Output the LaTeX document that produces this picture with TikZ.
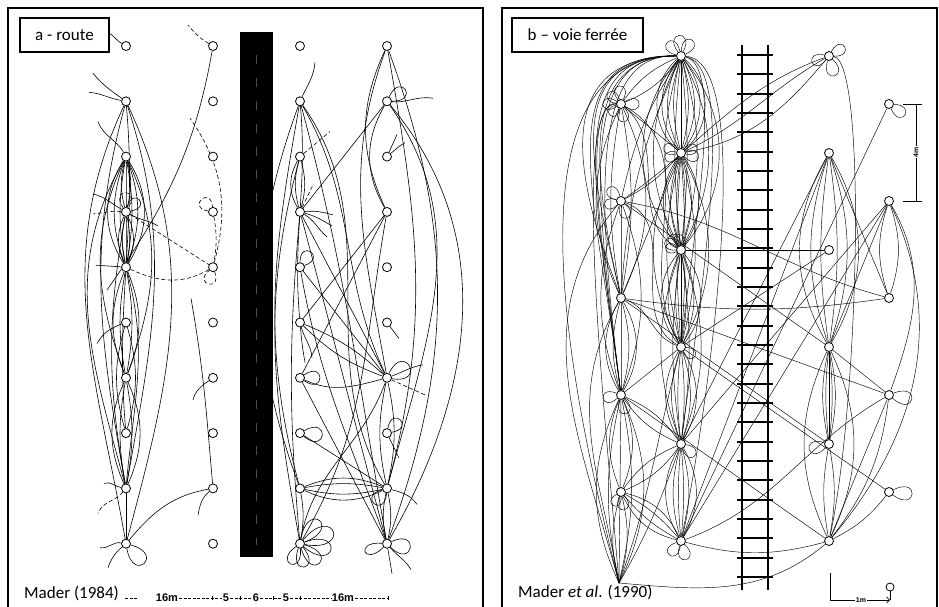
\documentclass[tikz,border=0pt]{standalone}
\usepackage{fontspec}
\setmainfont{Carlito}
\newfontfamily\gaugefont{Liberation Sans}
\usetikzlibrary{positioning,arrows.meta}
\pgfdeclarelayer{background}
\pgfsetlayers{background,main}
\tikzstyle{site} = [draw, circle, fill=white, inner sep=0pt,
    minimum size=9pt, line width=0.8pt]
\tikzstyle{link} = [draw, line width=0.6pt]
\tikzstyle{thread} = [draw, line width=0.45pt]
\tikzstyle{trail} = [draw, line width=0.6pt, dash pattern=on 4pt off 2.5pt]
\tikzstyle{caption} = [draw, rectangle, line width=1.2pt, inner sep=0pt,
    font=\fontsize{17}{19}\selectfont]
\tikzstyle{source} = [inner sep=0pt, anchor=base west, font=\fontsize{17}{19}\selectfont]
\tikzstyle{gauge} = [inner sep=1pt, font=\gaugefont\bfseries\fontsize{11}{11}\selectfont]
\tikzstyle{gaugeline} = [draw, line width=0.5pt, dash pattern=on 3pt off 1.5pt]
\tikzstyle{frame} = [line width=1.6pt]

\begin{document}
\begin{tikzpicture}[x=1pt, y=1pt, >=latex]
\useasboundingbox (0,0) rectangle (939,-607);
% panel frames
\draw[frame] (8,-607) |- (483,-8) -- (483,-607);
\draw[frame] (502,-607) |- (937,-8) -- (937,-607);

\node[caption, minimum width=89pt, minimum height=34pt] (route) at (64.5,-35) {a - route};
\node[caption, minimum width=131pt, minimum height=34pt] (rail) at (577.5,-35) {b -- voie ferrée};

% road
\fill (240,-32) rectangle (273,-557);
\draw[black!70!white, line width=0.6pt, dash pattern=on 9pt off 14pt] (256.5,-55) -- (256.5,-545);

% sites along the road
\foreach \col/\x in {a/126,b/213,c/300,d/387}
  \foreach \i in {1,...,10}
    \node[site] (\col\i) at (\x,{-46-55.3*(\i-1)}) {};

% sites along the railway
\foreach \i in {1,...,5} {
  \node[site] (p\i) at (621,{-104-97*(\i-1)}) {};
  \node[site] (t\i) at (889,{-104-97*(\i-1)}) {};
}
\foreach \i in {1,...,6} {
  \node[site] (q\i) at (681,{-56-97*(\i-1)}) {};
  \node[site] (s\i) at (829,{-56-97*(\i-1)}) {};
}
\coordinate (p6) at (619,-583);

% sources
\node[source] (mader) at (24,-598) {Mader (1984)};
\node[source] (madetal) at (518,-597) {Mader \textit{et al}. (1990)};

% width scale under the road
\node[gauge] (m16l) at (167,-598) {16m};
\node[gauge] (m5l) at (226,-598) {5};
\node[gauge] (m6) at (256,-598) {6};
\node[gauge] (m5r) at (286,-598) {5};
\node[gauge] (m16r) at (343,-598) {16m};
\coordinate (gstart) at (125,-598);
\coordinate (gend) at (388,-598);
\draw[gaugeline] (gstart) -- ++(12,0);
\draw[gaugeline] (m16l) -- (m5l);
\draw[gaugeline] (m5l) -- (m6);
\draw[gaugeline] (m6) -- (m5r);
\draw[gaugeline] (m5r) -- (m16r);
\draw[gaugeline] (m16r) -- (gend);
\foreach \x in {212.5,240,273,300.5,388} \draw[line width=0.5pt] (\x,-596) -- (\x,-600);

% scales of panel b
\node[gauge, rotate=90, font=\gaugefont\bfseries\fontsize{7}{7}\selectfont] (four) at (916,-152) {4m};
\coordinate (ftop) at (916,-104);
\coordinate (fbot) at (916,-201);
\draw[link] (ftop) -- (four);
\draw[link] (four) -- (fbot);
\draw[link] ([xshift=-13pt]ftop) -- ([xshift=6pt]ftop);
\draw[link] ([xshift=-13pt]fbot) -- ([xshift=6pt]fbot);
\node[gauge, font=\gaugefont\bfseries\fontsize{7}{7}\selectfont] (onem) at (861,-600) {1m};
\coordinate (mtop) at (830,-573);
\coordinate (mcorner) at (830,-600);
\coordinate (mend) at (890,-600);
\node[site, minimum size=8pt] (probe) at (890,-587) {};
\draw[link] (mtop) -- (mcorner) -- (onem);
\draw[link, -{Straight Barb[length=3pt]}] (onem) -- (mend);
\draw[link] (probe) -- (mend);

\begin{pgfonlayer}{background}
% railway
\foreach \x in {742,768} \draw[line width=2pt] (\x,-45) -- (\x,-590);
\foreach \k in {0,...,27} \draw[line width=2pt] (737,{-55-19.33*\k}) -- (773,{-55-19.33*\k});

% ---- panel a, west side
\draw[link] (a1) to[out=150,in=-30] ++(-17,13);
\draw[link] (a2) to[out=145,in=-50] ++(-33,28);
\draw[link] (a2) to[out=170,in=-5] ++(-37,9);
\draw[link] (a3) to[out=120,in=-70] ++(-28,35);
\draw[link] (a2) to[out=-115,in=100] (a10);
\draw[link] (a2) to[out=-105,in=100] (a9);
\draw[link] (a2) to[out=-65,in=75] (a10);
\draw[link] (a2) to[out=-72,in=80] (a9);
\draw[link] (a2) to[out=-85,in=95] (a8);
\foreach \b in {-32,-20,-10,10,20,32} \draw[link] (a3) to[bend left=\b] (a5);
\foreach \b in {-24,-12,0,12,24} \draw[link] (a4) to[bend left=\b] (a5);
\foreach \b in {-15,0,15} \draw[link] (a3) to[bend left=\b] (a4);
\draw[link] (a3) to[out=-115,in=110] (a7);
\draw[link] (a3) to[out=-65,in=70] (a7);
\draw[link] (a3) to[out=-120,in=105] (a9);
\draw[link] (a4) to[out=150,in=-15] ++(-33,18);
\draw[link] (a4) to[out=-30,in=150] ++(32,-14);
\draw[trail] (a4) to[out=175,in=5] ++(-33,-2);
\draw[link] (a4) to[out=75,in=10,min distance=22pt] (a4);
\draw[trail] (a4) to[out=125,in=60,min distance=24pt] (a4);
\draw[trail] (a4) -- (b5);
\draw[trail] (a5) to[out=-25,in=-150] (b5);
\draw[link] (a5) -- ++(-30,2);
\draw[link] (b1) to[out=-100,in=55] ++(-106,-244);
\draw[trail] (b1) to[out=150,in=-50] ++(-25,21);
\draw[trail] (b5) to[out=75,in=-55] ++(-23,149);
\draw[trail] (b4) to[out=170,in=95,min distance=22pt] (b4);
\draw[trail] (b4) to[bend left=10] (b5);
\draw[trail] (b5) to[out=-70,in=-140,min distance=22pt] (b5);
\foreach \b in {-22,-10,10,22} \draw[link] (a5) to[bend left=\b] (a7);
\foreach \b in {-16,16} \draw[link] (a6) to[bend left=\b] (a8);
\foreach \b in {-24,-10,10,24} \draw[link] (a7) to[bend left=\b] (a9);
\draw[link] (a5) to[out=-75,in=85] (a9);
\draw[link] (a4) to[out=-100,in=100] (a9);
\draw[link] (a6) to[out=-160,in=60] ++(-29,-21);
\draw[link] (a9) to[out=170,in=20] ++(-22,5);
\draw[trail] (a9) to[out=-130,in=70] ++(-28,-25);
\draw[link] (a9) -- (a10);
\draw[link] (a10) to[out=-15,in=-80,min distance=36pt] (a10);
\draw[link] (a10) to[out=170,in=-10] ++(-26,-4);
\draw[link] (a10) to[out=-140,in=70] ++(-18,-24);
\draw[link] (a10) to[out=50,in=190] (b9);
\draw[link] (b7) to[out=-145,in=75] ++(-20,-22);
\draw[link] (b9) to[out=-140,in=80] ++(-15,-27);
\draw[link] (b9) to[out=95,in=-80] ++(-22,190);

% ---- panel a, east side
\draw[link] (c2) to[out=65,in=-95] ++(15,39);
\draw[link] (d1) to[out=-115,in=115] (d4);
\draw[link] (d1) to[out=-70,in=70] (d10);
\draw[link] (d1) to[out=-80,in=75] (d9);
\draw[link] (d1) to[out=-110,in=100] (d7);
\draw[link] (d2) to[out=65,in=0,min distance=28pt] (d2);
\draw[link] (d2) to[out=-5,in=170] ++(46,3);
\draw[link] (d2) -- (c4);
\draw[link] (d2) to[out=-120,in=120] (d4);
\draw[link] (d2) to[out=-55,in=75] (d9);
\draw[link] (d2) to[out=-50,in=60] (d10);
\draw[link] (d3) -- ++(10,22);
\draw[link] (d3) to[out=40,in=-150] ++(18,14);
\draw[link] (c2) to[out=-110,in=110] (c9);
\draw[link] (c2) to[out=-100,in=105] (c9);
\draw[link] (c3) to[out=-105,in=100] (c10);
\foreach \b in {-30,-15,15} \draw[link] (c3) to[bend left=\b] (c4);
\draw[trail] (c3) -- ++(30,25);
\draw[link] (c2) to[out=-60,in=115] (d7);
\draw[link] (c2) to[out=-55,in=120] (d9);
\draw[link] (c2) to[out=-75,in=100] (d10);
\draw[link] (c2) to[out=-85,in=95] (c6);
\draw[link] (c4) -- (d7);
\draw[link] (c4) to[out=-75,in=105] (d10);
\draw[link] (c4) to[out=-95,in=95] (c10);
\draw[link] (c4) to[out=5,in=165] ++(33,-3);
\draw[link] (c4) to[out=-15,in=150] ++(32,-14);
\draw[link] (c4) to[out=-30,in=140] ++(27,-25);
\draw[trail] (c4) -- ++(13,27);
\draw[link] (c5) to[out=90,in=20,min distance=24pt] (c5);
\draw[link] (c5) -- (d7);
\draw[link] (c5) to[out=-80,in=110] (d10);
\draw[link] (c6) to[bend left=10] (d7);
\draw[link] (c6) to[bend right=12] (d7);
\draw[link] (c6) to[out=-75,in=95] ++(12,-35);
\draw[link] (c6) to[out=-85,in=100] ++(5,-40);
\draw[link] (c7) to[out=35,in=-35,min distance=26pt] (c7);
\draw[link] (c7) to[out=-25,in=-165] (d7);
\draw[link] (c7) -- (d10);
\draw[link] (c8) to[out=30,in=-40,min distance=30pt] (c8);
\draw[link] (c8) -- (d9);
\foreach \b in {-25,-12,10,22} \draw[link] (c9) to[bend left=\b] (d9);
\draw[link] (c9) to[bend left=10] (c10);
\draw[link] (d4) -- (c6);
\draw[link] (d4) -- (c7);
\draw[link] (d4) to[out=-100,in=60] (c10);
\draw[link] (d6) -- ++(12,-16);
\draw[link] (d7) to[out=65,in=-10,min distance=36pt] (d7);
\draw[link] (d7) to[out=20,in=-170] ++(36,13);
\draw[trail] (d7) -- ++(40,-18);
\draw[link] (d7) to[out=-110,in=80] (c10);
\draw[link] (d7) to[bend left=12] (d9);
\draw[link] (d7) to[bend right=12] (d9);
\draw[link] (d8) to[out=80,in=10,min distance=24pt] (d8);
\draw[link] (d8) -- ++(12,-25);
\draw[link] (d9) to[out=-95,in=-165,min distance=26pt] (d9);
\draw[link] (d9) to[out=-15,in=125] ++(30,-16);
\foreach \b in {-12,12} \draw[link] (d9) to[bend left=\b] (d10);
\draw[link] (d10) to[out=-135,in=175,min distance=28pt] (d10);
\draw[link] (d10) to[out=25,in=-45,min distance=32pt] (d10);
\draw[link] (d10) -- ++(5,-30);
\draw[link] (d10) to[out=-50,in=120] ++(24,-26);
\foreach \n/\ang/\sz [evaluate=\ang as \ao using int(\ang+30),
    evaluate=\ang as \ai using int(\ang-30)]
  in {c10/50/40pt, c10/20/48pt, c10/-10/42pt, c10/-45/36pt, c10/-80/30pt, c10/-115/28pt}
  \draw[link] (\n) to[out=\ao,in=\ai,min distance=\sz] (\n);

% ---- panel b
\foreach \b in {-50,-38,-26,-14,0,14,26,38,50} \draw[thread] (q1) to[bend left=\b] (q2);
\foreach \b in {-40,-28,-16,-6,6,16,28,40} \draw[thread] (q1) to[bend left=\b] (q3);
\foreach \b in {-35,-20,-8,8,20,35} \draw[thread] (q2) to[bend left=\b] (q3);
\foreach \b in {-28,-14,-4,4,14,28} \draw[thread] (q2) to[bend left=\b] (q4);
\foreach \b in {-40,-25,-10,0,10,25,40} \draw[thread] (q3) to[bend left=\b] (q4);
\foreach \b in {-20,-8,8,20} \draw[thread] (q3) to[bend left=\b] (q5);
\foreach \b in {-30,-18,-6,6,18,30} \draw[thread] (q4) to[bend left=\b] (q5);
\foreach \b in {-30,-15,-5,5,15,30} \draw[thread] (q5) to[bend left=\b] (q6);
\draw[thread] (q1) .. controls +(-190,0) and +(-40,160) .. (p6);
\draw[thread] (q1) .. controls +(-150,0) and +(-30,80) .. (p3);
\foreach \d in {90,105,120,135} \draw[thread] (q1) .. controls +(-\d,3) and +(-25,200) .. (p4);
\foreach \d in {100,120} \draw[thread] (q1) .. controls +(-\d,0) and +(-30,130) .. (p3);
\draw[thread] (q1) .. controls +(45,-10) and +(10,100) .. (q4);
\draw[thread] (q1) .. controls +(60,-10) and +(15,120) .. (q5);
\draw[thread] (q1) .. controls +(75,-5) and +(30,150) .. (q6);
\foreach \b in {-15,15} \draw[thread] (q1) to[bend left=\b] (p1);
\draw[thread] (p1) -- (q2);
\draw[thread] (p1) to[out=-40,in=150] (q3);
\draw[thread] (p1) to[out=-30,in=120] (q4);
\foreach \b in {-25,-10,10,25} \draw[thread] (p1) to[bend left=\b] (p3);
\draw[thread] (p1) .. controls +(-50,5) and +(-15,180) .. (p6);
\draw[thread] (p1) .. controls +(-40,0) and +(-20,150) .. (p4);
\draw[thread] (p2) to[bend left=10] (q1);
\draw[thread] (p2) to[bend right=10] (q2);
\draw[thread] (p2) -- (s4);
\draw[thread] (p2) to[out=-20,in=150] (q4);
\draw[thread] (p2) to[out=35,in=-160] (s1);
\draw[thread] (p2) to[out=-10,in=165] (t3);
\foreach \b in {-20,0,20} \draw[thread] (p2) to[bend left=\b] (p4);
\draw[thread] (p2) to[out=-130,in=105] (p6);
\draw[thread] (p3) -- (q2);
\draw[thread] (p3) to[bend left=10] (q1);
\draw[thread] (p3) -- (t4);
\draw[thread] (p3) to[bend right=8] (t3);
\draw[thread] (p3) to[out=-20,in=160] (q4);
\draw[thread] (p3) -- (s5);
\foreach \b in {-30,-15,15,30} \draw[thread] (p3) to[bend left=\b] (p4);
\draw[thread] (p3) to[out=-120,in=100] (p6);
\foreach \b in {-25,-12,0,12,25} \draw[thread] (p4) to[bend left=\b] (p6);
\foreach \b in {-22,22} \draw[thread] (p4) to[bend left=\b] (p5);
\foreach \b in {-15,15} \draw[thread] (p4) to[bend left=\b] (q5);
\draw[thread] (p4) -- (q4);
\draw[thread] (p4) -- (s6);
\foreach \b in {-15,15} \draw[thread] (p5) to[bend left=\b] (p6);
\foreach \b in {-15,15} \draw[thread] (p5) to[bend left=\b] (q5);
\foreach \b in {-25,-10,10,25} \draw[thread] (p5) to[bend left=\b] (q6);
\draw[thread] (q5) to[out=-110,in=60] (p6);
\draw[thread] (q4) to[out=-105,in=70] (p6);
\draw[thread] (p6) to[out=-5,in=-140] (s6);
\draw[thread] (q2) to[out=25,in=-150] (s1);
\draw[thread] (q2) to[out=10,in=-130] (s1);
\draw[thread] (q3) -- (s3);
\draw[thread] (q4) -- (s3);
\draw[thread] (q4) -- (t5);
\draw[thread] (q5) -- (s2);
\draw[thread] (q6) -- (s2);
\draw[thread] (q6) -- (t2);
\draw[thread] (q6) -- (t1);
\draw[thread] (q6) to[out=20,in=-150] (t4);
\draw[thread] (q6) to[out=-15,in=-165] (s6);
\draw[thread] (t2) -- (q5);
\foreach \b in {-30,-18,-8,8,18,30} \draw[thread] (s2) to[bend left=\b] (s4);
\foreach \b in {-12,-6,0,6,12} \draw[thread] (s4) to[bend left=\b] (s5);
\foreach \b in {-10,10} \draw[thread] (s5) to[bend left=\b] (s6);
\foreach \b in {-25,25} \draw[thread] (s4) to[bend left=\b] (s6);
\draw[thread] (s2) -- (t3);
\draw[thread] (s4) -- (t4);
\draw[thread] (s1) .. controls +(38,-5) and +(30,140) .. (s6);
\foreach \b in {-18,18} \draw[thread] (t2) to[bend left=\b] (t3);
\draw[thread] (t2) to[out=-60,in=70] (t4);
\draw[thread] (t2) -- (s4);
\draw[thread] (t4) -- (s6);
\draw[thread] (t4) to[bend left=15] (s6);
\draw[thread] (t5) to[bend left=12] (s6);
\draw[thread] (t2) to[out=-65,in=50] (s6);
\foreach \n/\ang/\sz [evaluate=\ang as \ao using int(\ang+32),
    evaluate=\ang as \ai using int(\ang-32)]
  in {q1/135/24pt, q1/95/26pt, q1/55/24pt,
      p1/180/22pt, p1/140/20pt, p1/95/22pt, p1/0/22pt, p1/-80/22pt, p1/225/18pt,
      q2/160/22pt, q2/200/20pt, q2/20/20pt, q2/-15/22pt,
      p2/135/22pt, p2/195/20pt, p2/-70/22pt,
      q3/100/18pt, q3/125/22pt, q3/150/22pt, q3/170/18pt,
      p4/190/22pt, p4/-75/24pt, q4/-35/20pt, q5/-40/22pt,
      p5/-80/22pt, p5/-120/18pt, q6/-130/22pt, q6/-75/24pt,
      s1/30/22pt, s1/-75/26pt, s1/200/22pt, t1/-35/24pt,
      s5/195/26pt, t4/-10/30pt, t5/-5/30pt}
  \draw[thread] (\n) to[out=\ao,in=\ai,min distance=\sz] (\n);
\end{pgfonlayer}
\end{tikzpicture}
\end{document}
